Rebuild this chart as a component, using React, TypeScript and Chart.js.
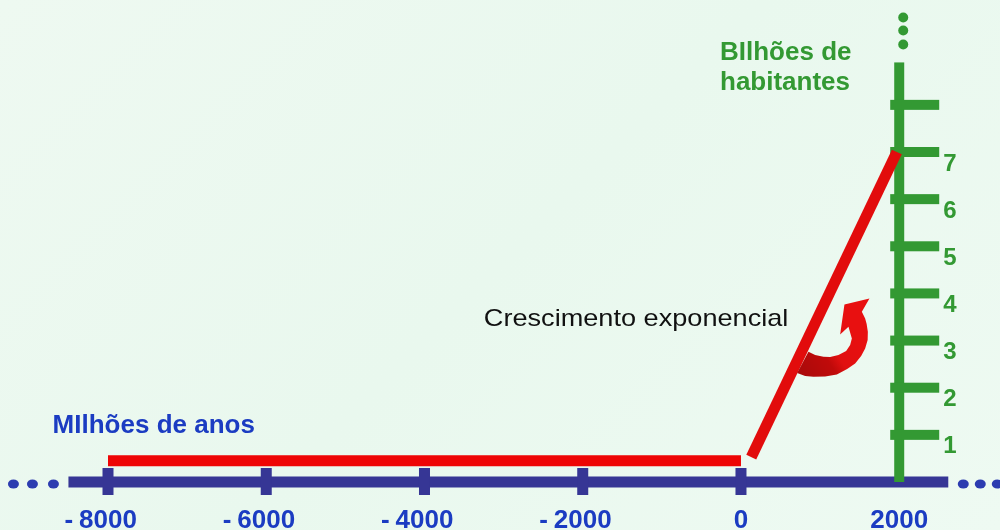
import React, { useEffect, useRef } from "react";
import { Chart, registerables } from "chart.js";

Chart.register(...registerables);

// ---- data ----
const xTickValues = [-8000, -6000, -4000, -2000, 0, 2000];
const xTickLabels = ["- 8000", "- 6000", "- 4000", "- 2000", "0", "2000"];
const yTickValues = [1, 2, 3, 4, 5, 6, 7, 8];
const yTickLabels = ["1", "2", "3", "4", "5", "6", "7", ""];
const flatYears = [-8000, 0];
const flatPopulation = [0.45, 0.45];
const growthYears = [130, 1970];
const growthPopulation = [0.53, 7];
const xAxisTitle = "MIlhões de anos";
const yAxisTitleLines = ["BIlhões de", "habitantes"];
const growthLabel = "Crescimento exponencial";

const X_MIN = -8500;
const X_MAX = 3000;
const Y_MIN = -1;
const Y_MAX = 10;
const X_AXIS_END = 2620;
const Y_AXIS_X = 2000;
const Y_AXIS_TOP = 8.9;

const BLUE_AXIS = "#363695";
const BLUE_TEXT = "#1b3cc2";
const GREEN = "#339933";
const RED = "#ee0505";
const FONT = "'Liberation Sans', Arial, Helvetica, sans-serif";

const toPoints = (xs: number[], ys: number[]) => xs.map((x, i) => ({ x, y: ys[i] }));

const drawPlugin = {
  id: "sketch",
  beforeDatasetsDraw(chart: any) {
    const { ctx, scales } = chart;
    const sx = scales.x;
    const sy = scales.y;
    const y0 = sy.getPixelForValue(0);
    const xStart = sx.getPixelForValue(X_MIN);
    const xEnd = sx.getPixelForValue(X_AXIS_END);
    const gx = sx.getPixelForValue(Y_AXIS_X);
    ctx.save();
    // blue axis
    ctx.fillStyle = BLUE_AXIS;
    ctx.fillRect(xStart, y0 - 5.5, xEnd - xStart, 11);
    xTickValues.forEach((v) => {
      if (v === Y_AXIS_X) return;
      const px = sx.getPixelForValue(v);
      ctx.fillRect(px - 5.5, y0 - 14, 11, 27);
    });
    // blue dots
    ctx.fillStyle = "#2c3cb0";
    [-40, -21, 0].forEach((o) => {
      ctx.beginPath();
      ctx.ellipse(xStart - 15 + o, y0 + 2, 5.5, 4.5, 0, 0, Math.PI * 2);
      ctx.fill();
    });
    [0, 17, 34].forEach((o) => {
      ctx.beginPath();
      ctx.ellipse(xEnd + 15 + o, y0 + 2, 5.5, 4.5, 0, 0, Math.PI * 2);
      ctx.fill();
    });
    // blue tick labels
    ctx.fillStyle = BLUE_TEXT;
    ctx.font = `bold 26px ${FONT}`;
    ctx.textBaseline = "alphabetic";
    xTickLabels.forEach((lab, i) => {
      const px = sx.getPixelForValue(xTickValues[i]);
      const neg = lab.startsWith("- ");
      const num = neg ? lab.slice(2) : lab;
      const w = ctx.measureText(num).width;
      ctx.textAlign = "center";
      ctx.fillText(num, px, y0 + 46);
      if (neg) {
        ctx.textAlign = "right";
        ctx.fillText("-", px - w / 2 - 6, y0 + 46);
      }
    });
    // green axis
    const gTop = sy.getPixelForValue(Y_AXIS_TOP);
    ctx.fillStyle = GREEN;
    ctx.fillRect(gx - 5, gTop, 10, y0 - gTop);
    yTickValues.forEach((v, i) => {
      const py = sy.getPixelForValue(v);
      ctx.fillRect(gx - 9, py - 5, 49, 10);
      if (yTickLabels[i]) {
        ctx.font = `bold 24px ${FONT}`;
        ctx.textAlign = "left";
        ctx.textBaseline = "middle";
        ctx.fillText(yTickLabels[i], gx + 44, py + 12);
      }
    });
    [-45, -32, -18].forEach((o) => {
      ctx.beginPath();
      ctx.arc(gx + 4, gTop + o, 5, 0, Math.PI * 2);
      ctx.fill();
    });
    ctx.restore();
  },
  afterDatasetsDraw(chart: any) {
    const { ctx, scales } = chart;
    const sx = scales.x;
    const sy = scales.y;
    ctx.save();
    // titles
    ctx.textBaseline = "alphabetic";
    ctx.textAlign = "left";
    ctx.fillStyle = BLUE_TEXT;
    ctx.font = `bold 26px ${FONT}`;
    ctx.fillText(xAxisTitle, sx.getPixelForValue(-8700), sy.getPixelForValue(1.04));
    ctx.fillStyle = GREEN;
    const tx = sx.getPixelForValue(-265);
    const ty = sy.getPixelForValue(8.95);
    yAxisTitleLines.forEach((l, i) => ctx.fillText(l, tx, ty + i * 30));
    // growth label (slightly stretched text)
    ctx.fillStyle = "#111111";
    ctx.font = `24px ${FONT}`;
    ctx.save();
    ctx.translate(sx.getPixelForValue(-3250), sy.getPixelForValue(3.3));
    ctx.scale(1.13, 1);
    ctx.fillText(growthLabel, 0, 0);
    ctx.restore();
    // curved arrow
    const ax = sx.getPixelForValue(710);
    const ay = sy.getPixelForValue(2.31);
    const pts = [
      [72.3, -74.7], [47.3, -68.7], [43, -38.7], [51.3, -46.3],
      [54.7, -34.7], [53, -28], [49, -22], [41.3, -18], [33, -16], [26.3, -16.3], [18, -18], [11.3, -21.3],
      [0, 0],
      [8, 3], [16.3, 3.7], [28, 3.5], [39.7, 1.3], [50, -4], [58, -9.7], [64, -17], [68, -24.7], [70.5, -33], [70.7, -41.3], [69.5, -49], [68, -54.7], [64.7, -61.3],
    ];
    const grad = ctx.createLinearGradient(ax, ay, ax + 60, ay - 40);
    grad.addColorStop(0, "#a80a0a");
    grad.addColorStop(0.45, "#c00a0a");
    grad.addColorStop(0.6, "#e01010");
    grad.addColorStop(1, "#e81010");
    ctx.fillStyle = grad;
    ctx.beginPath();
    pts.forEach(([dx, dy], i) => (i === 0 ? ctx.moveTo(ax + dx, ay + dy) : ctx.lineTo(ax + dx, ay + dy)));
    ctx.closePath();
    ctx.fill();
    ctx.restore();
  },
};

export default function App() {
  const ref = useRef<HTMLCanvasElement | null>(null);
  useEffect(() => {
    if (!ref.current) return;
    const chart = new Chart(ref.current, {
      type: "scatter",
      data: {
        datasets: [
          {
            data: toPoints(flatYears, flatPopulation),
            showLine: true,
            borderColor: RED,
            borderWidth: 11,
            borderCapStyle: "butt",
            pointRadius: 0,
          },
          {
            data: toPoints(growthYears, growthPopulation),
            showLine: true,
            borderColor: "#e20c0c",
            borderWidth: 11,
            borderCapStyle: "butt",
            pointRadius: 0,
          },
        ],
      },
      options: {
        animation: false,
        responsive: false,
        devicePixelRatio: 1,
        layout: { padding: { left: 68.44, right: 21.66, top: 10.57, bottom: 0.86 } },
        plugins: { legend: { display: false }, tooltip: { enabled: false } },
        scales: {
          x: { type: "linear", min: X_MIN, max: X_MAX, display: false },
          y: { type: "linear", min: Y_MIN, max: Y_MAX, display: false },
        },
      },
      plugins: [drawPlugin],
    } as any);
    return () => chart.destroy();
  }, []);
  return (
    <div
      style={{
        position: "fixed",
        left: 0,
        top: 0,
        width: 1000,
        height: 530,
        background: "linear-gradient(135deg, #eef9f1 0%, #e9f8ee 50%, #eefaf2 100%)",
      }}
    >
      <canvas ref={ref} width={1000} height={530} />
    </div>
  );
}
